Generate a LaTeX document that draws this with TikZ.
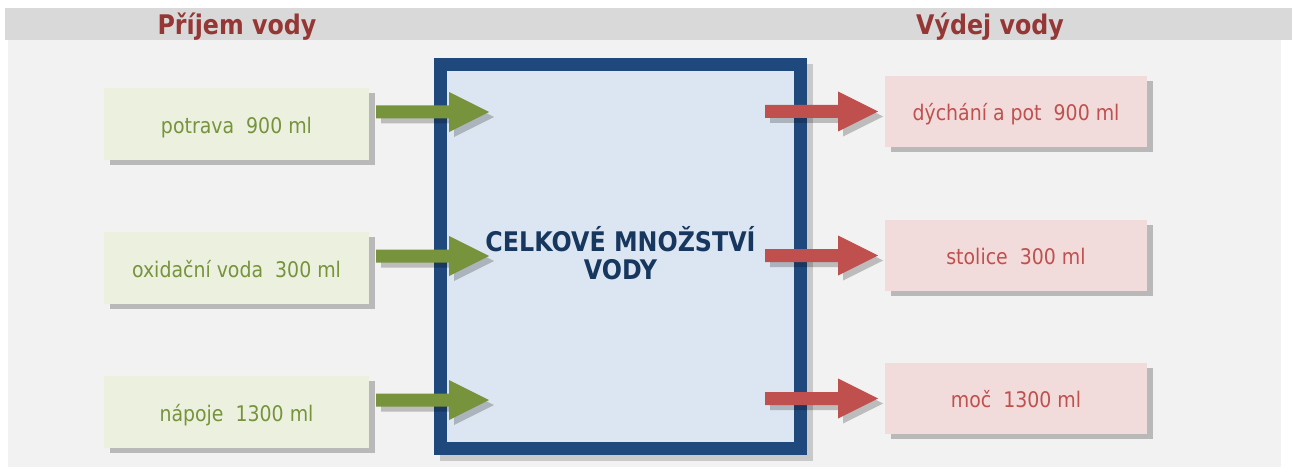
\documentclass[tikz,border=0pt]{standalone}
\usepackage{fontspec}
\setmainfont[FakeStretch=0.88]{DejaVu Sans}
\usetikzlibrary{shadows}
\definecolor{hdrband}{HTML}{D9D9D9}
\definecolor{panel}{HTML}{F2F2F2}
\definecolor{hdrtext}{HTML}{953735}
\definecolor{ingfill}{HTML}{EBF1DE}
\definecolor{ingreen}{HTML}{77933C}
\definecolor{outfill}{HTML}{F2DCDB}
\definecolor{outred}{HTML}{C0504D}
\definecolor{totborder}{HTML}{1F497D}
\definecolor{totfill}{HTML}{DCE6F2}
\definecolor{tottext}{HTML}{17375E}
\definecolor{boxshadow}{HTML}{B9B9B9}
\definecolor{totshadow}{HTML}{C9C9C9}
\newcommand\fatarrow[2]{%
  \fill[#2] (#1) ++(0,-6.5) -- ++(73,0) -- ++(0,-13.5) -- ++(40,20)
    -- ++(-40,20) -- ++(0,-13.5) -- ++(-73,0) -- cycle;}
\tikzset{
  smallbox/.style={rectangle, inner sep=0pt, outer sep=0pt,
    text height=18pt, text depth=0pt,
    font=\fontsize{21.5}{26}\selectfont,
    drop shadow={shadow xshift=6pt, shadow yshift=-5pt, fill=boxshadow, opacity=1}},
  inbox/.style={smallbox, fill=ingfill, text=ingreen,
    minimum width=265pt, minimum height=72pt},
  outbox/.style={smallbox, fill=outfill, text=outred,
    minimum width=262pt, minimum height=71pt},
  hdr/.style={anchor=base, text=hdrtext, inner sep=0pt,
    font=\bfseries\fontsize{27}{30}\selectfont},
  totbox/.style={rectangle, draw=totborder, line width=13pt, fill=totfill,
    minimum width=360pt, minimum height=384pt, inner sep=0pt, outer sep=0pt},
  totlabel/.style={text=tottext, align=center, inner sep=0pt,
    font=\bfseries\fontsize{27}{28}\selectfont},
  garrow/.style={fill=ingreen},
  rarrow/.style={fill=outred},
  ashadow/.style={fill=black, opacity=0.22}
}
\begin{document}
\begin{tikzpicture}[x=1pt,y=-1pt]
\useasboundingbox (0,0) rectangle (1292,468);
\fill[white] (0,0) rectangle (1292,468);
\fill[hdrband] (5,8) rectangle (1292,40);
\fill[panel] (8,40) rectangle (1281,467);
\node[hdr] (hin) at (237,35) {Příjem vody};
\node[hdr] (hout) at (990,35) {Výdej vody};

% centre box
\fill[totshadow] (440,64) rectangle (813,461);
\node[totbox] (tot) at (620.5,256.5) {};
\node[totlabel] (totl) at (620.5,253.5) {CELKOVÉ MNOŽSTVÍ\\VODY};

% intake boxes
\node[inbox] (in1) at (236.5,124) {potrava\ \ 900 ml};
\node[inbox] (in2) at (236.5,268) {oxidační voda\ \ 300 ml};
\node[inbox] (in3) at (236.5,412) {nápoje\ \ 1300 ml};

% output boxes
\node[outbox] (out1) at (1016,111.5) {dýchání a pot\ \ 900 ml};
\node[outbox] (out2) at (1016,255.5) {stolice\ \ 300 ml};
\node[outbox] (out3) at (1016,398.5) {moč\ \ 1300 ml};

% arrow start points
\coordinate (gs1) at ([xshift=7pt,yshift=12pt]in1.east);
\coordinate (gs2) at ([xshift=7pt,yshift=12pt]in2.east);
\coordinate (gs3) at ([xshift=7pt,yshift=12pt]in3.east);
\coordinate (rs1) at ([xshift=-120pt]out1.west);
\coordinate (rs2) at ([xshift=-120pt]out2.west);
\coordinate (rs3) at ([xshift=-120pt]out3.west);
\coordinate (gs1s) at ([xshift=5pt,yshift=-5pt]gs1);
\coordinate (gs2s) at ([xshift=5pt,yshift=-5pt]gs2);
\coordinate (gs3s) at ([xshift=5pt,yshift=-5pt]gs3);
\coordinate (rs1s) at ([xshift=5pt,yshift=-5pt]rs1);
\coordinate (rs2s) at ([xshift=5pt,yshift=-5pt]rs2);
\coordinate (rs3s) at ([xshift=5pt,yshift=-5pt]rs3);

% arrows (shadow first)
\fatarrow{gs1s}{ashadow}\fatarrow{gs1}{garrow}
\fatarrow{gs2s}{ashadow}\fatarrow{gs2}{garrow}
\fatarrow{gs3s}{ashadow}\fatarrow{gs3}{garrow}
\fatarrow{rs1s}{ashadow}\fatarrow{rs1}{rarrow}
\fatarrow{rs2s}{ashadow}\fatarrow{rs2}{rarrow}
\fatarrow{rs3s}{ashadow}\fatarrow{rs3}{rarrow}
\end{tikzpicture}
\end{document}
